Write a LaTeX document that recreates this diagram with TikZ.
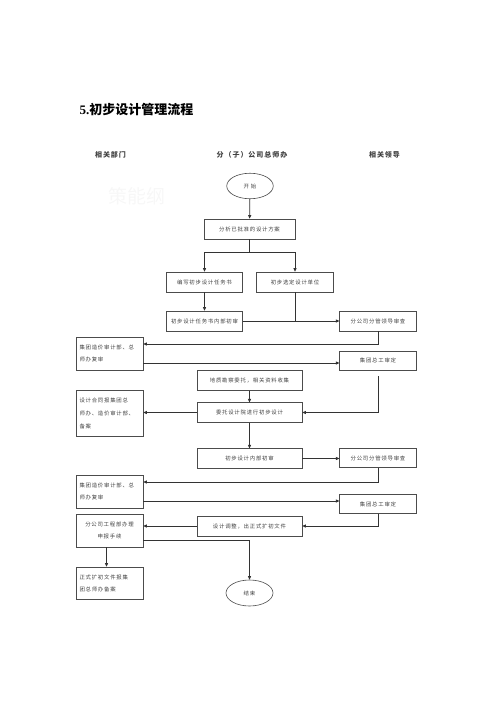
\documentclass[tikz,border=0pt]{standalone}
\usepackage{fontspec}
\newfontfamily\cjk[LetterSpace=14]{Noto Sans CJK SC}
\newfontfamily\cjkt{Noto Sans CJK SC}
\usetikzlibrary{arrows.meta,shapes.geometric}
\begin{document}
\begin{tikzpicture}[x=1pt,y=-1pt,
  box/.style={draw=black!70, line width=0.6pt, inner sep=0pt, text=black!75,
    font=\cjk\fontsize{5.4}{12}\selectfont},
  wbox/.style={box, minimum width=105pt, minimum height=19.5pt},
  mbox/.style={box, minimum width=76.5pt, minimum height=20pt},
  lbox/.style={box, minimum width=67pt, align=left, text width=60pt},
  oval/.style={ellipse, draw=black!70, line width=0.6pt, inner sep=0pt,
    minimum width=46.5pt, minimum height=25.5pt, text=black!75,
    font=\cjk\fontsize{5.4}{12}\selectfont},
  head/.style={font=\cjk\bfseries\fontsize{7}{8}\selectfont, text=black!75},
  arr/.style={line width=0.8pt, draw=black!80, -{Triangle[length=3.5pt,width=3pt]}},
  ln/.style={line width=0.8pt, draw=black!80}]
\useasboundingbox (0,0) rectangle (500,707);

\node[font=\cjkt\bfseries\fontsize{13}{15}\selectfont, anchor=west] (title) at (76,110) {{\fontspec{Liberation Serif}\bfseries 5.}初步设计管理流程};
\node[head] (h1) at (110.5,155) {相关部门};
\node[head] (h2) at (252,155) {分（子）公司总师办};
\node[head] (h3) at (384.5,155) {相关领导};
\node[font=\cjkt\fontsize{19}{20}\selectfont, text=black!3] (wm) at (137,196) {策能纲};

\node[oval] (start) at (250,186) {开\ 始};
\node[box, minimum width=91pt, minimum height=20pt] (b1) at (249.5,229) {分析已批准的设计方案};
\node[mbox] (b2) at (204.5,282) {编写初步设计任务书};
\node[mbox] (b3) at (295,282) {初步选定设计单位};
\node[mbox] (b4) at (204.5,321) {初步设计任务书内部初审};
\node[mbox] (b5) at (378,321) {分公司分管领导审查};

\node[lbox, minimum height=33pt] (c1) at (109.5,353.5) {集团造价审计部、总\\师办复审};
\node[mbox, minimum height=19pt] (c2) at (378,360.5) {集团总工审定};
\node[wbox] (d1) at (249.5,380.5) {地质勘察委托，相关资料收集};
\node[wbox] (d2) at (249.5,412.5) {委托设计院进行初步设计};
\node[lbox, minimum height=46pt, font=\cjk\fontsize{5.4}{13}\selectfont] (c3) at (109.5,413) {设计合同报集团总\\师办、造价审计部、\\备案};
\node[wbox] (e1) at (249.5,458.5) {初步设计内部初审};
\node[mbox, minimum height=19pt] (e2) at (378,458) {分公司分管领导审查};

\node[lbox, minimum height=33pt] (f1) at (109.5,491.5) {集团造价审计部、总\\师办复审};
\node[mbox, minimum height=19pt] (f2) at (378,504) {集团总工审定};
\node[wbox, minimum height=20pt] (g1) at (249.5,526) {设计调整，出正式扩初文件};
\node[box, minimum width=67pt, minimum height=33pt, align=center] (k1) at (109.5,530.5) {分公司工程部办理\\申报手续};
\node[lbox, minimum height=32pt] (k2) at (109.5,583) {正式扩初文件报集\\团总师办备案};
\node[oval, minimum width=47pt, minimum height=26pt] (end) at (249.5,593) {结束};

% connectors
\draw[arr] (start) -- (b1);
\coordinate (j1) at (249.5,252);
\draw[ln] (b1.south) -- (j1);
\draw[arr] (j1) -| (b2.north);
\draw[arr] (j1) -| (b3.north);
\draw[arr] (b2) -- (b4);
\draw[arr] (b4.east) -- (b5.west);
\draw[ln] (b3.south) -- (b3.south |- b4.east);

\coordinate (q1) at ([yshift=9.5pt]c1.east);
\draw[arr] (b5.south) |- (q1);
\coordinate (q2) at ([yshift=-9.5pt]c1.east);
\draw[arr] (q2) -- (q2 -| c2.west);

\coordinate (g) at ([yshift=-6pt]c2.south);
\draw[arr] (g) |- (d2.east);
\draw[arr] (d1) -- (d2);
\draw[arr] (d2.west) -- (d2.west -| c3.east);
\draw[arr] (d2) -- (e1);
\draw[arr] (e1.east) -- (e1.east -| e2.west);

\coordinate (q3) at ([yshift=9.5pt]f1.east);
\draw[arr] (e2.south) |- (q3);
\coordinate (q4) at ([yshift=-9.5pt]f1.east);
\draw[arr] (q4) -- (q4 -| f2.west);

\draw[arr] (f2.south) |- (g1.east);
\draw[arr] (g1.west) -- (g1.west -| k1.east);
\coordinate (q5) at ([yshift=-9.5pt]k1.east);
\draw[arr] (q5) -| (end.north);
\draw[arr] ([xshift=-3pt]k1.south) -- ([xshift=-3pt]k2.north);
\end{tikzpicture}
\end{document}
